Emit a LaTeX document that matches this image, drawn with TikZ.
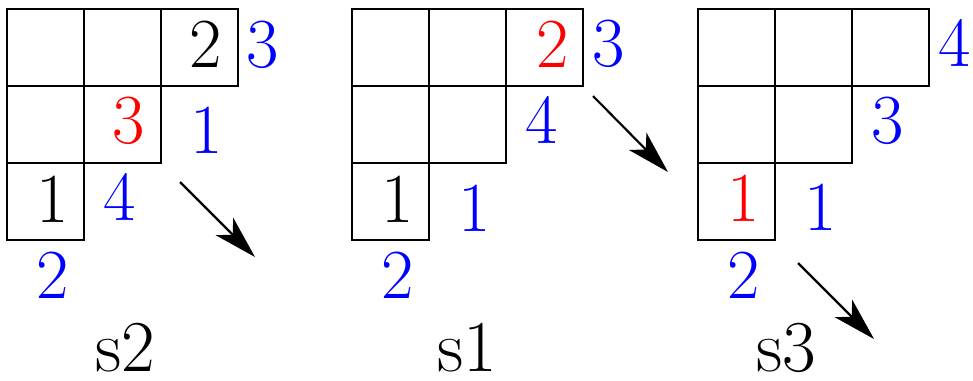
\documentclass[tikz,border=0pt]{standalone}
\usetikzlibrary{arrows.meta}
\definecolor{ygblue}{RGB}{0,0,255}
\definecolor{ygred}{RGB}{255,0,0}
\tikzset{
  cellbox/.style={draw=black, line width=0.8pt},
  entry/.style={inner sep=0pt, font=\fontsize{26}{30}\selectfont},
  hook/.style={entry, ygblue},
  moved/.style={entry, ygred},
  caption/.style={inner sep=0pt, font=\fontsize{27}{30}\selectfont},
  jump/.style={-{Stealth[length=5.6mm,width=3.2mm,inset=1.5mm]}, line width=0.8pt}
}

\begin{document}
\begin{tikzpicture}
  \useasboundingbox (0,0) rectangle (12.636,4.935);

  % Diagram s2
  \begin{scope}[shift={(0.091,4.818)}]
    \foreach \c/\r in {0/0,1/0,2/0,0/1,1/1,0/2}
      \draw[cellbox] (\c,-\r) rectangle ++(1,-1);
    \node[entry] (s2a) at (2.584,-0.461) {2};
    \node[hook]  (s2b) at (3.325,-0.461) {3};
    \node[moved] (s2c) at (1.584,-1.455) {3};
    \node[hook]  (s2d) at (2.597,-1.571) {1};
    \node[entry] (s2e) at (0.597,-2.468) {1};
    \node[hook]  (s2f) at (1.468,-2.442) {4};
    \node[hook]  (s2g) at (0.597,-3.455) {2};
    \coordinate (s2from) at (2.247,-2.247);
    \coordinate (s2to) at (3.221,-3.221);
    \draw[jump] (s2from) -- (s2to);
    \node[caption] (s2name) at (1.532,-4.40) {s2};
  \end{scope}

  % Diagram s1
  \begin{scope}[shift={(4.571,4.818)}]
    \foreach \c/\r in {0/0,1/0,2/0,0/1,1/1,0/2}
      \draw[cellbox] (\c,-\r) rectangle ++(1,-1);
    \node[moved] (s1a) at (2.610,-0.455) {2};
    \node[hook]  (s1b) at (3.338,-0.455) {3};
    \node[hook]  (s1c) at (2.468,-1.442) {4};
    \node[entry] (s1d) at (0.597,-2.468) {1};
    \node[hook]  (s1e) at (1.597,-2.584) {1};
    \node[hook]  (s1f) at (0.597,-3.455) {2};
    \coordinate (s1from) at (3.130,-1.130);
    \coordinate (s1to) at (4.104,-2.117);
    \draw[jump] (s1from) -- (s1to);
    \node[caption] (s1name) at (1.494,-4.40) {s1};
  \end{scope}

  % Diagram s3
  \begin{scope}[shift={(9.065,4.818)}]
    \foreach \c/\r in {0/0,1/0,2/0,0/1,1/1,0/2}
      \draw[cellbox] (\c,-\r) rectangle ++(1,-1);
    \node[hook]  (s3a) at (3.338,-0.442) {4};
    \node[hook]  (s3b) at (2.468,-1.455) {3};
    \node[moved] (s3c) at (0.597,-2.455) {1};
    \node[hook]  (s3d) at (1.597,-2.571) {1};
    \node[hook]  (s3e) at (0.597,-3.455) {2};
    \coordinate (s3from) at (1.299,-3.299);
    \coordinate (s3to) at (2.286,-4.286);
    \draw[jump] (s3from) -- (s3to);
    \node[caption] (s3name) at (1.143,-4.40) {s3};
  \end{scope}
\end{tikzpicture}
\end{document}
